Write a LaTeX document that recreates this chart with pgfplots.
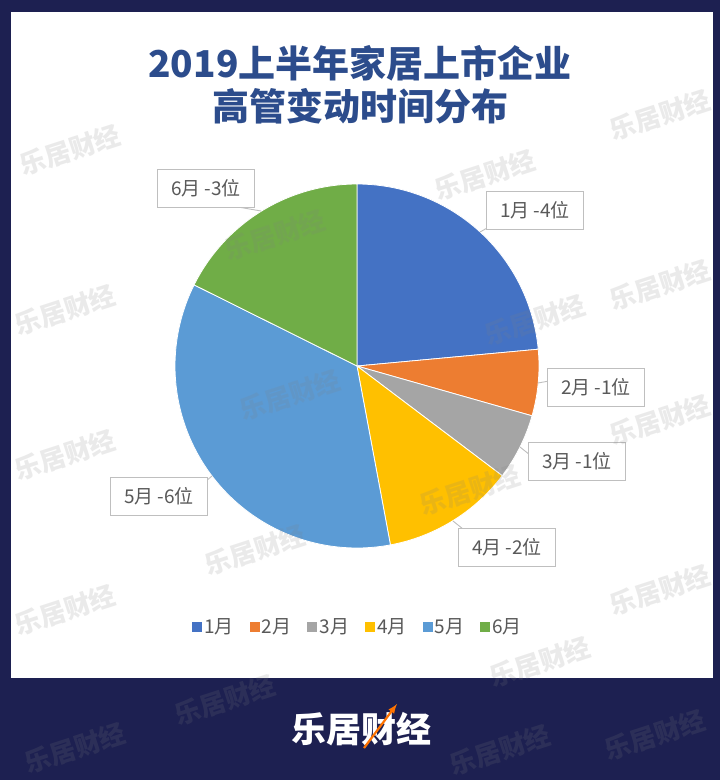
\documentclass[border=0pt]{standalone}
\usepackage{pgfplots}
\pgfplotsset{compat=1.18}
\usepackage{fontspec}
\setmainfont{Noto Sans CJK SC}
\newfontfamily\cjk{Noto Sans CJK SC}
\definecolor{navy}{RGB}{29,32,81}
\definecolor{ttl}{RGB}{44,76,140}
\definecolor{lbl}{RGB}{89,89,89}
\definecolor{c1}{HTML}{4472C4}
\definecolor{c2}{HTML}{ED7D31}
\definecolor{c3}{HTML}{A5A5A5}
\definecolor{c4}{HTML}{FFC000}
\definecolor{c5}{HTML}{5B9BD5}
\definecolor{c6}{HTML}{70AD47}
% values: 1月 4, 2月 1, 3月 1, 4月 2, 5月 6, 6月 3 (total 17)
\newcommand{\slice}[3]{%
  \pgfmathsetmacro\da{90-360*#2/17}%
  \pgfmathsetmacro\db{90-360*#1/17}%
  \addplot[fill=#3, draw=white, line width=0.8pt, domain=\da:\db, samples=90, variable=\t]
    ({357+182*cos(\t)},{366-182*sin(\t)}) -- (axis cs:357,366) -- cycle;
}
\newcommand{\wm}[2]{\node[rotate=18, text=gray, opacity=0.16, font=\cjk\bfseries\fontsize{26}{26}\selectfont] at (axis cs:#1,#2) {乐居财经};}
\newcommand{\lab}[3]{\node[draw=gray!50, fill=white, line width=0.9pt, minimum width=97pt, minimum height=38pt, inner sep=0pt, text=lbl, font=\cjk\fontsize{19}{19}\selectfont] at (axis cs:#1,#2) {#3};}
\begin{document}
\begin{tikzpicture}
\useasboundingbox (0,0) rectangle (720pt,780pt);
\fill[navy] (0,0) rectangle (720pt,780pt);
\fill[white] (11pt,102pt) rectangle (713pt,768pt);
\begin{axis}[width=720pt, height=780pt, scale only axis,
  xmin=0, xmax=720, ymin=0, ymax=780, y dir=reverse,
  hide axis, clip=false,
  legend columns=6,
  legend style={at={(axis cs:358,627)}, anchor=center, draw=none, fill=none,
    font=\cjk\fontsize{19}{19}\selectfont, text=lbl,
    /tikz/every even column/.append style={column sep=14pt}},
  legend image code/.code={\fill[#1,draw=none] (0pt,-5pt) rectangle (10pt,5pt);},
]
\slice{0}{4}{c1}\addlegendentry{1月}
\slice{4}{5}{c2}\addlegendentry{2月}
\slice{5}{6}{c3}\addlegendentry{3月}
\slice{6}{8}{c4}\addlegendentry{4月}
\slice{8}{14}{c5}\addlegendentry{5月}
\slice{14}{17}{c6}\addlegendentry{6月}
% title
\node[text=ttl, font=\cjk\bfseries\fontsize{37}{37}\selectfont] at (axis cs:360,63) {2019上半年家居上市企业};
\node[text=ttl, font=\cjk\bfseries\fontsize{37}{37}\selectfont] at (axis cs:360,106) {高管变动时间分布};
% leader lines
\draw[gray!50, line width=0.9pt] (axis cs:238,207) -- (axis cs:261,211);
\draw[gray!50, line width=0.9pt] (axis cs:489,227) -- (axis cs:480,232);
\draw[gray!50, line width=0.9pt] (axis cs:549,381) -- (axis cs:538,383);
\draw[gray!50, line width=0.9pt] (axis cs:530,455) -- (axis cs:520,447);
\draw[gray!50, line width=0.9pt] (axis cs:463,529) -- (axis cs:453,521);
\draw[gray!50, line width=0.9pt] (axis cs:206,481) -- (axis cs:212,476);
% labels
\lab{206}{188}{6月 -3位}
\lab{535}{210}{1月 -4位}
\lab{596}{387}{2月 -1位}
\lab{577}{461}{3月 -1位}
\lab{507}{547}{4月 -2位}
\lab{159}{496}{5月 -6位}
% footer logo
\node[text=white, font=\cjk\bfseries\fontsize{35}{35}\selectfont] at (axis cs:361,729) {乐居财经};
\draw[orange!90!red, line width=2.2pt, -{latex}] (axis cs:364,748) -- (axis cs:397,704);
% watermarks
\wm{70}{150}\wm{485}{175}\wm{660}{115}\wm{275}{235}\wm{65}{310}
\wm{535}{320}\wm{660}{285}\wm{290}{395}\wm{65}{455}\wm{660}{420}
\wm{470}{490}\wm{255}{550}\wm{65}{610}\wm{540}{662}\wm{660}{590}
\wm{225}{700}\wm{75}{748}\wm{500}{750}\wm{655}{735}
\end{axis}
\end{tikzpicture}
\end{document}
